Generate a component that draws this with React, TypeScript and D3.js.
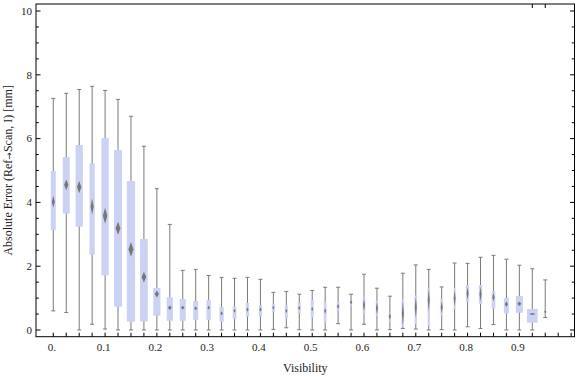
import React from "react";
import * as d3 from "d3";

const visibility = [0, 0.025, 0.05, 0.075, 0.1, 0.125, 0.15, 0.175, 0.2, 0.225, 0.25, 0.275, 0.3, 0.325, 0.35, 0.375, 0.4, 0.425, 0.45, 0.475, 0.5, 0.525, 0.55, 0.575, 0.6, 0.625, 0.65, 0.675, 0.7, 0.725, 0.75, 0.775, 0.8, 0.825, 0.85, 0.875, 0.9, 0.925, 0.95];
const whiskerLow = [0.6, 0.55, 0, 0.18, 0.03, 0, 0, 0, 0, 0, 0, 0, 0, 0, 0, 0, 0, 0.02, 0.07, 0.01, 0, 0, 0.2, 0, 0.18, 0, 0.01, 0.05, 0.03, 0, 0.01, 0, 0.1, 0.05, 0.17, 0, 0, 0, 0.39];
const q1 = [3.13, 3.65, 3.24, 2.36, 1.71, 0.73, 0.26, 0.27, 0.45, 0.29, 0.29, 0.32, 0.32, 0.26, 0.35, 0.42, 0.42, 0.57, 0.36, 0.53, 0.41, 0.23, 0.6, 0.76, 0.52, 0.45, 0.26, 0.1, 0.19, 0.13, 0.45, 0.67, 0.89, 0.82, 0.67, 0.52, 0.54, 0.23, 0.49];
const median = [4.02, 4.55, 4.48, 3.87, 3.58, 3.19, 2.53, 1.66, 1.13, 0.7, 0.7, 0.68, 0.7, 0.52, 0.6, 0.64, 0.64, 0.7, 0.6, 0.69, 0.66, 0.6, 0.74, 0.87, 0.78, 0.68, 0.42, 0.52, 0.71, 0.94, 0.71, 0.99, 1.15, 1.12, 1.03, 0.81, 0.82, 0.5, 0.57];
const q3 = [4.98, 5.42, 5.8, 5.22, 6.02, 5.64, 4.67, 2.85, 1.32, 1.03, 0.97, 0.91, 0.94, 0.72, 0.73, 0.85, 0.78, 0.82, 0.78, 0.85, 0.94, 0.87, 0.88, 0.94, 1.02, 0.92, 0.55, 0.96, 1.08, 1.32, 0.97, 1.32, 1.41, 1.41, 1.22, 1.0, 1.07, 0.66, 0.63];
const whiskerHigh = [7.26, 7.42, 7.54, 7.64, 7.51, 7.23, 6.7, 5.76, 4.43, 3.31, 1.87, 1.9, 1.71, 1.65, 1.62, 1.65, 1.59, 1.18, 1.21, 1.12, 1.24, 1.34, 1.34, 1.12, 1.75, 1.31, 1.06, 1.78, 2.04, 1.9, 1.35, 2.1, 2.09, 2.28, 2.34, 2.22, 2.03, 1.92, 1.57];
const notch = [0.19, 0.17, 0.19, 0.25, 0.25, 0.2, 0.23, 0.17, 0.11, 0.07, 0.06, 0.06, 0.06, 0.06, 0.06, 0.07, 0.07, 0.06, 0.07, 0.07, 0.07, 0.09, 0.08, 0.08, 0.2, 0.2, 0.11, 0.39, 0.34, 0.36, 0.19, 0.27, 0.2, 0.24, 0.13, 0.09, 0.07, 0.03, 0.06];
const sampleWeight = [50, 70, 73, 53, 73, 80, 83, 77, 72, 62, 60, 50, 43, 43, 37, 33, 30, 30, 30, 30, 30, 27, 27, 20, 27, 23, 23, 25, 23, 23, 23, 17, 33, 33, 37, 50, 70, 107, 20];

const xTickValues = [0, 0.025, 0.05, 0.075, 0.1, 0.125, 0.15, 0.175, 0.2, 0.225, 0.25, 0.275, 0.3, 0.325, 0.35, 0.375, 0.4, 0.425, 0.45, 0.475, 0.5, 0.525, 0.55, 0.575, 0.6, 0.625, 0.65, 0.675, 0.7, 0.725, 0.75, 0.775, 0.8, 0.825, 0.85, 0.875, 0.9, 0.925, 0.95, 0.975, 1.0];
const xLabelValues = [0, 0.1, 0.2, 0.3, 0.4, 0.5, 0.6, 0.7, 0.8, 0.9];
const xLabelText = ["0.", "0.1", "0.2", "0.3", "0.4", "0.5", "0.6", "0.7", "0.8", "0.9"];
const topTickValues = [0.925, 0.95];
const yMajor = [0, 2, 4, 6, 8, 10];
const yMinor = [0.5, 1, 1.5, 2.5, 3, 3.5, 4.5, 5, 5.5, 6.5, 7, 7.5, 8.5, 9, 9.5];

const W = 576, H = 377;
const L = 36, R = 574.5, T = 4, B = 336.7;
const FONT = "'Liberation Serif', 'DejaVu Serif', serif";

export default function App() {
  const x = d3.scaleLinear().domain([-0.0334, 1.0065]).range([L, R]);
  const y = d3.scaleLinear().domain([-0.21, 10.22]).range([B, T]);
  const wScale = d3.scaleLinear().domain([0, 100]).range([0, 10]);
  const grey = "#7a7a7a";
  const box = "#cbd2f4";
  return (
    <svg width={W} height={H} style={{ position: "absolute", left: 0, top: 0, background: "#fff" }}>
      <defs>
        <filter id="soft" x="-50%" y="-50%" width="200%" height="200%">
          <feGaussianBlur stdDeviation="0.6" />
        </filter>
      </defs>
      {visibility.map((v, i) => {
        const cx = x(v);
        const bw = wScale(sampleWeight[i]);
        const dw = Math.max(1, bw * 0.3);
        const cap = 2;
        const m = y(median[i]);
        const nTop = y(median[i] + notch[i]);
        const nBot = y(median[i] - notch[i]);
        return (
          <g key={i}>
            <line x1={cx} x2={cx} y1={y(whiskerLow[i])} y2={y(whiskerHigh[i])} stroke={grey} strokeWidth={1} />
            <line x1={cx - cap} x2={cx + cap} y1={y(whiskerLow[i])} y2={y(whiskerLow[i])} stroke={grey} strokeWidth={1} />
            <line x1={cx - cap} x2={cx + cap} y1={y(whiskerHigh[i])} y2={y(whiskerHigh[i])} stroke={grey} strokeWidth={1} />
            <rect x={cx - bw / 2} y={y(q3[i])} width={bw} height={y(q1[i]) - y(q3[i])} fill={box} />
            <path d={`M${cx},${nTop} L${cx + dw},${m} L${cx},${nBot} L${cx - dw},${m} Z`} fill="#777" filter="url(#soft)" />
          </g>
        );
      })}
      <rect x={L} y={T} width={R - L} height={B - T} fill="none" stroke="#000" strokeWidth={1} />
      {xTickValues.map((v, i) => (
        <line key={"xt" + i} x1={x(v)} x2={x(v)} y1={B} y2={B - 4} stroke="#000" strokeWidth={1} />
      ))}
      {topTickValues.map((v, i) => (
        <line key={"tt" + i} x1={x(v)} x2={x(v)} y1={T} y2={T + 4} stroke="#000" strokeWidth={1} />
      ))}
      {xLabelValues.map((v, i) => (
        <text key={"xl" + i} x={x(v) - 1.5} y={350.5} textAnchor="middle" fontFamily={FONT} fontSize={11} fill="#222">
          {xLabelText[i]}
        </text>
      ))}
      {yMajor.map((v, i) => (
        <g key={"ym" + i}>
          <line x1={L} x2={L + 4.5} y1={y(v)} y2={y(v)} stroke="#000" strokeWidth={1} />
          <line x1={R} x2={R - 4.5} y1={y(v)} y2={y(v)} stroke="#000" strokeWidth={1} />
          <text x={32} y={y(v) + 3.8} textAnchor="end" fontFamily={FONT} fontSize={11} fill="#222">
            {v}
          </text>
        </g>
      ))}
      {yMinor.map((v, i) => (
        <g key={"yn" + i}>
          <line x1={L} x2={L + 2.8} y1={y(v)} y2={y(v)} stroke="#000" strokeWidth={1} />
          <line x1={R} x2={R - 2.8} y1={y(v)} y2={y(v)} stroke="#000" strokeWidth={1} />
        </g>
      ))}
      <text x={(L + R) / 2} y={372} textAnchor="middle" fontFamily={FONT} fontSize={12} fill="#222">
        Visibility
      </text>
      <text transform={`translate(11.5, ${(T + B) / 2}) rotate(-90)`} textAnchor="middle" fontFamily={FONT} fontSize={12} fill="#222">
        Absolute Error (Ref<tspan fontFamily="'DejaVu Sans', sans-serif" fontSize={9}>→</tspan>Scan, I) [mm]
      </text>
    </svg>
  );
}
